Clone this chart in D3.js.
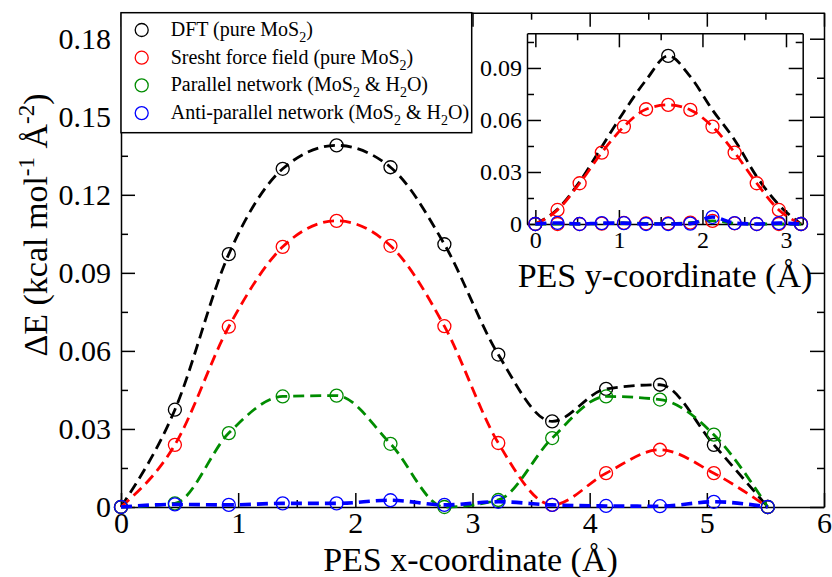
<!DOCTYPE html>
<html>
<head>
<meta charset="utf-8">
<script src="https://cdn.jsdelivr.net/npm/d3@7"></script>
<style>
	body { margin: 0; background: #fff; }
	svg text { font-family: "Liberation Serif", "LiberationSerif", "Tinos", "Nimbus Roman", "Times New Roman", "DejaVu Serif", serif; fill: #000; }
</style>
</head>
<body>
<svg width="832" height="577"></svg>
<script>
// main panel : PES along x
var xPoints   = [0, 0.46, 0.92, 1.38, 1.84, 2.30, 2.76, 3.22, 3.68, 4.14, 4.60, 5.06, 5.52];
var dftX      = [0, 0.0374, 0.0972, 0.130, 0.139, 0.1306, 0.101, 0.0586, 0.0329, 0.0454, 0.047, 0.0239, 0];
var sreshtX   = [0, 0.0239, 0.0693, 0.100, 0.110, 0.1004, 0.0695, 0.0246, 0.0008, 0.013, 0.022, 0.013, 0];
var parallelX = [0, 0.0014, 0.0284, 0.0425, 0.0428, 0.0243, 0, 0.0027, 0.0265, 0.0425, 0.0413, 0.0278, 0];
var antiX     = [0, 0.001, 0.0008, 0.0014, 0.0014, 0.0026, 0.0008, 0.002, 0.0008, 0.0004, 0.0003, 0.002, 0];

// inset : PES along y
var yPoints     = [0, 0.265, 0.53, 0.795, 1.06, 1.325, 1.59, 1.855, 2.12, 2.385, 2.65, 2.915, 3.18];
var dftYPoints  = [0, 1.59, 3.18];
var dftY        = [0, 0.097, 0];
var dftYFit     = [0, 0.0085, 0.0244, 0.0446, 0.0648, 0.083, 0.097, 0.085, 0.0658, 0.0485, 0.0273, 0.011, 0];
var sreshtY     = [0, 0.0081, 0.0235, 0.0412, 0.0562, 0.0662, 0.0687, 0.0658, 0.0562, 0.0412, 0.0235, 0.0081, 0];
var parallelY   = [0, 0, 0, 0.0002, 0.0006, 0.0004, 0.0003, 0.0008, 0.0018, 0.0004, 0, 0, 0];
var antiY       = [0, 0.0006, 0, 0.0005, 0.0005, 0, 0, 0.0002, 0.004, 0.0005, 0, 0.0005, 0];

var xTicks = [0, 1, 2, 3, 4, 5, 6],
	xMinor = [0.5, 1.5, 2.5, 3.5, 4.5, 5.5],
	yTicks = [0, 0.03, 0.06, 0.09, 0.12, 0.15, 0.18],
	yMinor = [0.015, 0.045, 0.075, 0.105, 0.135, 0.165];
var insetXTicks = [0, 1, 2, 3],
	insetXMinor = [0.5, 1.5, 2.5],
	insetYTicks = [0, 0.03, 0.06, 0.09],
	insetYMinor = [0.015, 0.045, 0.075, 0.105];

var legendLabels = ["DFT (pure MoS_2)", "Sresht force field (pure MoS_2)",
	"Parallel network (MoS_2 & H_2O)", "Anti-parallel network (MoS_2 & H_2O)"];
var colors = ["#000000", "#ff0000", "#008c00", "#0000ff"];

var FONT = "'Liberation Serif', 'LiberationSerif', 'Tinos', 'Nimbus Roman', 'Times New Roman', 'DejaVu Serif', serif";

var svg = d3.select("svg");

var x = d3.scaleLinear().domain([0, 6]).range([121, 824]),
	y = d3.scaleLinear().domain([0, 0.19]).range([507, 12.7]);

var xi = d3.scaleLinear().domain([-0.1, 3.2]).range([527, 802.7]),
	yi = d3.scaleLinear().domain([0, 0.11]).range([224, 33.3]);

var fmt = function(d){ return d === 0 ? "0" : d3.format(".2f")(d); };

function drawAxes(g, sx, sy, xt, xm, yt, ym, fontSize, xPad, yPad){
	var r = sx.range(), h = sy.range();
	var big = 14, small = 7;

	g.append("rect")
		.attr("x", r[0]).attr("y", h[1])
		.attr("width", r[1] - r[0]).attr("height", h[0] - h[1])
		.attr("fill", "#fff");

	var bottom = g.append("g").attr("transform", "translate(0," + h[0] + ")");
	bottom.call(d3.axisBottom(sx).tickValues(xt).tickSizeInner(-big).tickSizeOuter(0)
		.tickPadding(xPad).tickFormat(d3.format("d")));
	bottom.append("g").call(d3.axisBottom(sx).tickValues(xm).tickSizeInner(-small).tickSizeOuter(0).tickFormat(""))
		.select(".domain").remove();

	var top = g.append("g").attr("transform", "translate(0," + h[1] + ")");
	top.call(d3.axisTop(sx).tickValues(xt).tickSizeInner(-big).tickSizeOuter(0).tickFormat(""));
	top.append("g").call(d3.axisTop(sx).tickValues(xm).tickSizeInner(-small).tickSizeOuter(0).tickFormat(""))
		.select(".domain").remove();

	var left = g.append("g").attr("transform", "translate(" + r[0] + ",0)");
	left.call(d3.axisLeft(sy).tickValues(yt).tickSizeInner(-big).tickSizeOuter(0)
		.tickPadding(yPad).tickFormat(fmt));
	left.append("g").call(d3.axisLeft(sy).tickValues(ym).tickSizeInner(-small).tickSizeOuter(0).tickFormat(""))
		.select(".domain").remove();

	var right = g.append("g").attr("transform", "translate(" + r[1] + ",0)");
	right.call(d3.axisRight(sy).tickValues(yt).tickSizeInner(-big).tickSizeOuter(0).tickFormat(""));
	right.append("g").call(d3.axisRight(sy).tickValues(ym).tickSizeInner(-small).tickSizeOuter(0).tickFormat(""))
		.select(".domain").remove();

	// drop the empty label nodes of the unlabelled axes
	g.selectAll(".tick text").filter(function(){ return this.textContent === ""; }).remove();

	g.selectAll("g").attr("font-family", FONT);
	g.selectAll(".domain, .tick line").attr("stroke", "#000").attr("stroke-width", 1.5);
	g.selectAll(".tick text")
		.attr("font-family", FONT)
		.attr("font-size", fontSize)
		.attr("fill", "#000");
}

function drawSeries(g, sx, sy, xs, ys, color, width, withLine, withDots){
	var pts = xs.map(function(d, i){ return [d, ys[i]]; });
	if (withLine) {
		var line = d3.line()
			.x(function(d){ return sx(d[0]); })
			.y(function(d){ return sy(d[1]); })
			.curve(d3.curveMonotoneX);
		g.append("path")
			.attr("d", line(pts))
			.attr("fill", "none")
			.attr("stroke", color)
			.attr("stroke-width", width)
			.attr("stroke-dasharray", "11,6");
	}
	if (withDots) {
		g.selectAll(null).data(pts).enter().append("circle")
			.attr("cx", function(d){ return sx(d[0]); })
			.attr("cy", function(d){ return sy(d[1]); })
			.attr("r", 6.5)
			.attr("fill", "none")
			.attr("stroke", color)
			.attr("stroke-width", 1.3);
	}
}

function subText(sel, str, size){
	// "_2" -> subscript 2, the part after it goes back up
	var parts = str.split(/_(\d)/),
		wasSub = false;
	parts.forEach(function(p, i){
		if (!p) return;
		var ts = sel.append("tspan").text(p);
		if (i % 2 === 1) {
			ts.attr("dy", size * 0.3).attr("font-size", size * 0.7);
			wasSub = true;
		} else if (wasSub) {
			ts.attr("dy", -size * 0.3);
			wasSub = false;
		}
	});
}

// ---------- main panel
var main = svg.append("g");
drawAxes(main, x, y, xTicks, xMinor, yTicks, yMinor, 30, 5, 10);

var mainData = [dftX, sreshtX, parallelX, antiX];
mainData.forEach(function(ys, i){
	drawSeries(main, x, y, xPoints, ys, colors[i], i === 3 ? 3.6 : 2.8, true, true);
});

// axis titles
svg.append("text")
	.attr("x", (x.range()[0] + x.range()[1]) / 2 - 2)
	.attr("y", 571)
	.attr("text-anchor", "middle")
	.attr("font-family", FONT)
	.attr("font-size", 34)
	.text("PES x-coordinate (Å)");

var yt = svg.append("text")
	.attr("transform", "translate(47,225) rotate(-90)")
	.attr("text-anchor", "middle")
	.attr("font-family", FONT)
	.attr("font-size", 34);
yt.append("tspan").text("ΔE (kcal mol");
yt.append("tspan").attr("dy", -13).attr("font-size", 23).text("-1");
yt.append("tspan").attr("dy", 13).text(" Å");
yt.append("tspan").attr("dy", -13).attr("font-size", 23).text("-2");
yt.append("tspan").attr("dy", 13).text(")");

// legend
var lg = svg.append("g").attr("font-family", FONT);
lg.append("rect")
	.attr("x", 121).attr("y", 12.7)
	.attr("width", 350.7).attr("height", 120)
	.attr("fill", "#fff")
	.attr("stroke", "#000")
	.attr("stroke-width", 1.5);
legendLabels.forEach(function(label, i){
	var cy = 30 + i * 27.7;
	lg.append("circle")
		.attr("cx", 141.7).attr("cy", cy).attr("r", 6.5)
		.attr("fill", "none").attr("stroke", colors[i]).attr("stroke-width", 1.3);
	var t = lg.append("text")
		.attr("x", 170.7).attr("y", cy + 6)
		.attr("font-family", FONT)
		.attr("font-size", 20);
	subText(t, label, 20);
});

// ---------- inset
var inset = svg.append("g");
drawAxes(inset, xi, yi, insetXTicks, insetXMinor, insetYTicks, insetYMinor, 24, 7, 5);

drawSeries(inset, xi, yi, yPoints, dftYFit, colors[0], 2.8, true, false);
drawSeries(inset, xi, yi, dftYPoints, dftY, colors[0], 2.8, false, true);
drawSeries(inset, xi, yi, yPoints, sreshtY, colors[1], 2.8, true, true);
// parallel network markers show up red in the inset
drawSeries(inset, xi, yi, yPoints, parallelY, colors[2], 2.8, true, false);
drawSeries(inset, xi, yi, yPoints.slice(1, 12), parallelY.slice(1, 12), colors[1], 2.8, false, true);
drawSeries(inset, xi, yi, yPoints, antiY, colors[3], 3.6, true, true);

svg.append("text")
	.attr("x", 665)
	.attr("y", 287)
	.attr("text-anchor", "middle")
	.attr("font-family", FONT)
	.attr("font-size", 34)
	.text("PES y-coordinate (Å)");
</script>
</body>
</html>
